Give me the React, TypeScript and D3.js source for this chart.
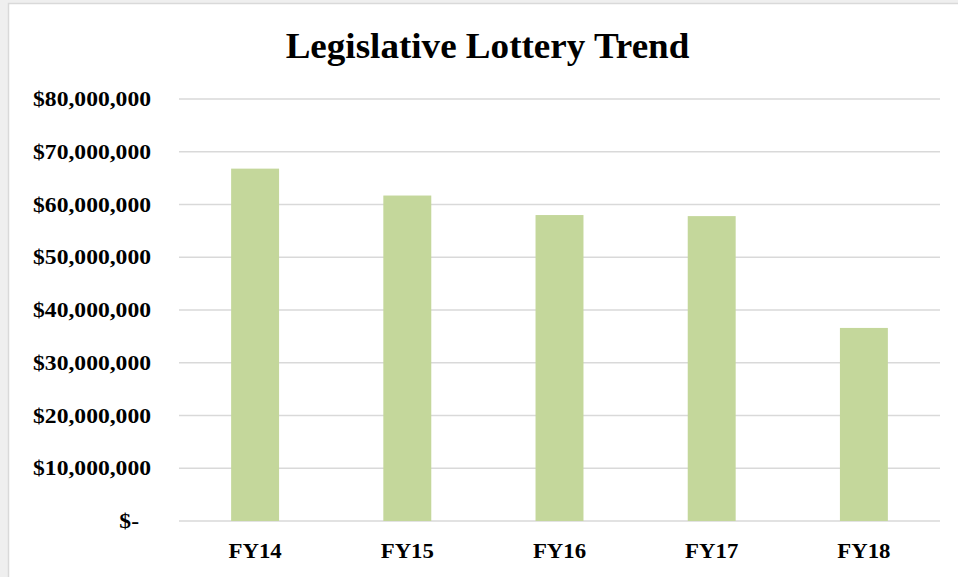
import React from 'react';
import * as d3 from 'd3';

const categories = ['FY14', 'FY15', 'FY16', 'FY17', 'FY18'];
const lotteryValues = [66800000, 61700000, 58000000, 57800000, 36600000];
const yTicks = [0, 10000000, 20000000, 30000000, 40000000, 50000000, 60000000, 70000000, 80000000];
const chartTitle = 'Legislative Lottery Trend';

const W = 958;
const H = 577;
const margin = { top: 99, right: 18, bottom: 56, left: 179 };
const FONT = '"Liberation Serif", "Times New Roman", serif';
const frame = { x: 8.5, y: 3.5 };

export default function App() {
  const x = d3.scaleBand<string>()
    .domain(categories)
    .range([margin.left, W - margin.right])
    .padding(0);

  const y = d3.scaleLinear()
    .domain([0, 80000000])
    .range([H - margin.bottom, margin.top]);

  const barWidth = x.bandwidth() * 0.315;
  const fmt = d3.format(',');
  const tickLabel = (d: number) => (d === 0 ? '$-' : '$' + fmt(d));

  return (
    <svg width={W} height={H} style={{ position: 'absolute', left: 0, top: 0 }}>
      {/* slide shadow + chart frame */}
      <rect x={0} y={0} width={W} height={H} fill="#efefef" />
      <rect x={frame.x} y={frame.y} width={W} height={H} fill="#ffffff" stroke="#d9d9d9" strokeWidth={1.5} />

      <text
        transform={`translate(${W / 2 + frame.x},58) scale(1.06,1)`}
        textAnchor="middle"
        fontFamily={FONT}
        fontWeight="bold"
        fontSize={35}
        fill="#000"
      >
        {chartTitle}
      </text>

      {/* gridlines */}
      <g>
        {yTicks.map(t => (
          <line
            key={t}
            x1={margin.left}
            x2={W - margin.right}
            y1={y(t)}
            y2={y(t)}
            stroke="#d9d9d9"
            strokeWidth={1.6}
          />
        ))}
      </g>

      {/* y labels */}
      <g>
        {yTicks.map(t => (
          <text
            key={t}
            transform={`translate(${t === 0 ? 139 : 151},${y(t) + 7}) scale(1.18,1)`}
            textAnchor="end"
            fontFamily={FONT}
            fontWeight="bold"
            fontSize={20}
            fill="#000"
          >
            {tickLabel(t)}
          </text>
        ))}
      </g>

      {/* bars */}
      <g>
        {categories.map((c, i) => (
          <rect
            key={c}
            x={x(c)! + (x.bandwidth() - barWidth) / 2}
            y={y(lotteryValues[i])}
            width={barWidth}
            height={y(0) - y(lotteryValues[i])}
            fill="#c4d79b"
          />
        ))}
      </g>

      {/* x labels */}
      <g>
        {categories.map(c => (
          <text
            key={c}
            transform={`translate(${x(c)! + x.bandwidth() / 2},558) scale(1.14,1)`}
            textAnchor="middle"
            fontFamily={FONT}
            fontWeight="bold"
            fontSize={20}
            fill="#000"
          >
            {c}
          </text>
        ))}
      </g>
    </svg>
  );
}
